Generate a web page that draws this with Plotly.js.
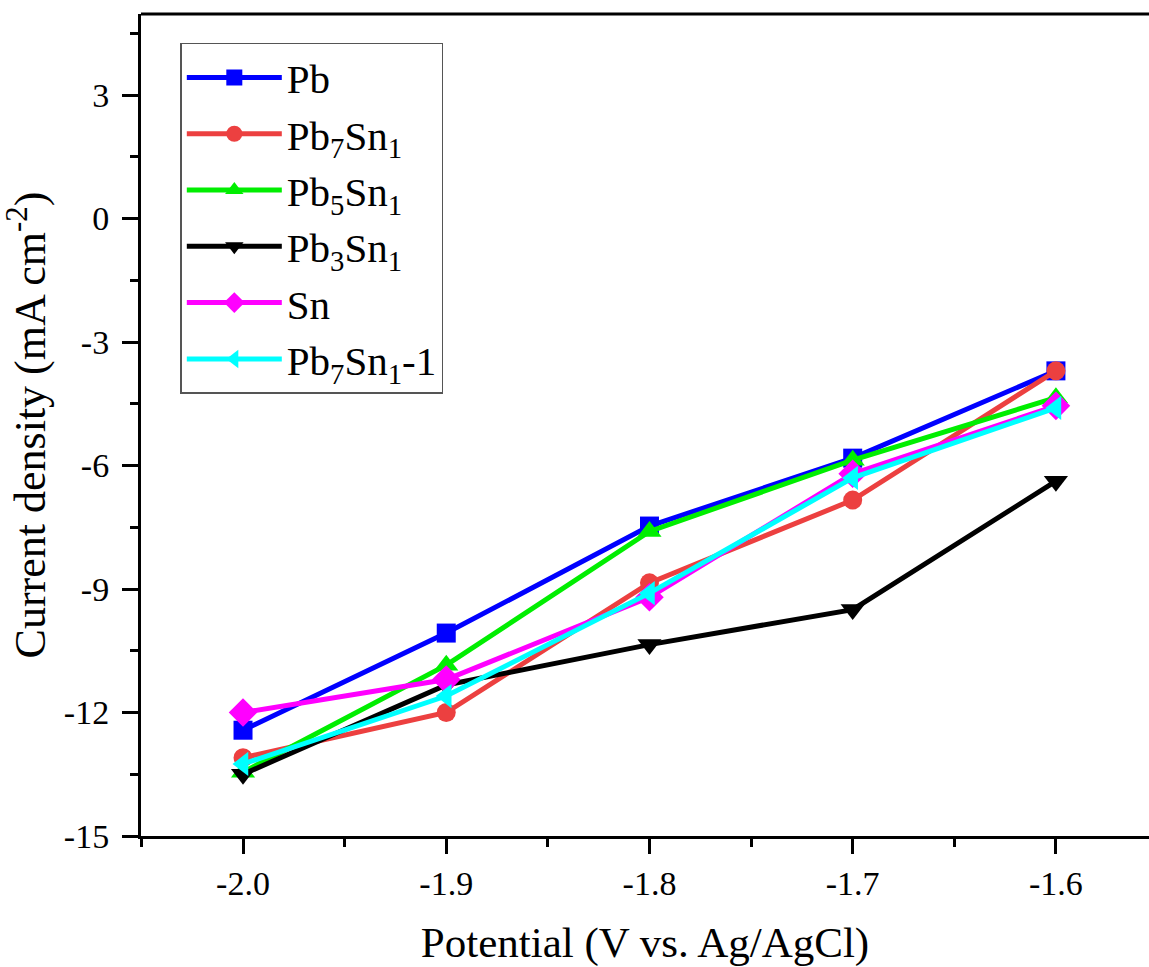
<!DOCTYPE html>
<html>
<head>
<meta charset="utf-8">
<script src="https://cdn.plot.ly/plotly-3.0.1.min.js"></script>
<style>html,body{margin:0;padding:0;background:#fff;overflow:hidden;}</style>
</head>
<body>
<div id="chart" style="width:1149px;height:967px;"></div>
<script>
const potential = [-2.0, -1.9, -1.8, -1.7, -1.6];
const seriesNames = ["Pb", "Pb<sub>7</sub>Sn<sub>1</sub>", "Pb<sub>5</sub>Sn<sub>1</sub>", "Pb<sub>3</sub>Sn<sub>1</sub>", "Sn", "Pb<sub>7</sub>Sn<sub>1</sub>-1"];
const pb      = [-12.43, -10.07, -7.47, -5.82, -3.7];
const pb7sn1  = [-13.1, -12.0, -8.85, -6.84, -3.7];
const pb5sn1  = [-13.45, -10.85, -7.6, -5.87, -4.35];
const pb3sn1  = [-13.5, -11.33, -10.35, -9.5, -6.38];
const sn      = [-12.0, -11.2, -9.2, -6.2, -4.55];
const pb7sn1_1 = [-13.25, -11.6, -9.1, -6.3, -4.6];
const yTickVals = [-15, -12, -9, -6, -3, 0, 3];
const yTickText = ["-15", "-12", "-9", "-6", "-3", "0", "3"];
const xTickVals = [-2.0, -1.9, -1.8, -1.7, -1.6];
const xTickText = ["-2.0", "-1.9", "-1.8", "-1.7", "-1.6"];

const values = [pb, pb7sn1, pb5sn1, pb3sn1, sn, pb7sn1_1];
const colors = ["#0000ff", "#ec4040", "#00ee00", "#000000", "#ff00ff", "#00ffff"];
const symbols = ["square", "circle", "triangle-up", "triangle-down", "diamond", "triangle-left"];
const sizes = [19, 19, 21, 21, 22, 21];

const traces = values.map((v, i) => ({
  x: potential, y: v, name: seriesNames[i], type: "scatter", mode: "lines+markers",
  line: {color: colors[i], width: 5},
  marker: {color: colors[i], symbol: symbols[i], size: sizes[i], line: {width: 0}},
  cliponaxis: false
}));

const font = "'Times New Roman', 'Liberation Serif', serif";
const layout = {
  width: 1149, height: 967,
  margin: {l: 141, r: 0, t: 14, b: 131},
  paper_bgcolor: "#fff", plot_bgcolor: "#fff",
  font: {family: font, color: "#000", size: 34},
  showlegend: true,
  legend: {
    x: 0.039, y: 0.965, xanchor: "left", yanchor: "top",
    bgcolor: "#fff", bordercolor: "#555", borderwidth: 1.5,
    font: {family: font, size: 41, color: "#000"},
    itemwidth: 95, tracegroupgap: 0
  },
  xaxis: {
    range: [-2.0502, -1.5542], showgrid: false, zeroline: false,
    showline: true, linecolor: "#000", linewidth: 3,
    ticks: "outside", ticklen: 15, tickwidth: 3, tickcolor: "#000",
    tickvals: xTickVals, ticktext: xTickText, ticklabelstandoff: 0,
    tickfont: {family: font, size: 34, color: "#000"},
    minor: {ticks: "outside", ticklen: 8, tickwidth: 3, tickcolor: "#000", dtick: 0.05, showgrid: false},
    title: {text: "Potential (V vs. Ag/AgCl)", font: {family: font, size: 43}, standoff: 33}
  },
  yaxis: {
    range: [-15, 4.97], showgrid: false, zeroline: false,
    showline: true, linecolor: "#000", linewidth: 3,
    ticks: "outside", ticklen: 16, tickwidth: 3, tickcolor: "#000",
    tickvals: yTickVals, ticktext: yTickText, ticklabelstandoff: 6,
    tickfont: {family: font, size: 34, color: "#000"},
    minor: {ticks: "outside", ticklen: 8, tickwidth: 3, tickcolor: "#000", dtick: 1.5, tick0: 0, showgrid: false},
    title: {text: "Current density (mA cm<sup>-2</sup>)", font: {family: font, size: 44}, standoff: 14}
  },
  shapes: [{type: "line", xref: "paper", yref: "paper", x0: 0, x1: 1, y0: 1, y1: 1, line: {color: "#000", width: 3}}]
};

Plotly.newPlot("chart", traces, layout, {displayModeBar: false, staticPlot: true});
</script>
</body>
</html>
